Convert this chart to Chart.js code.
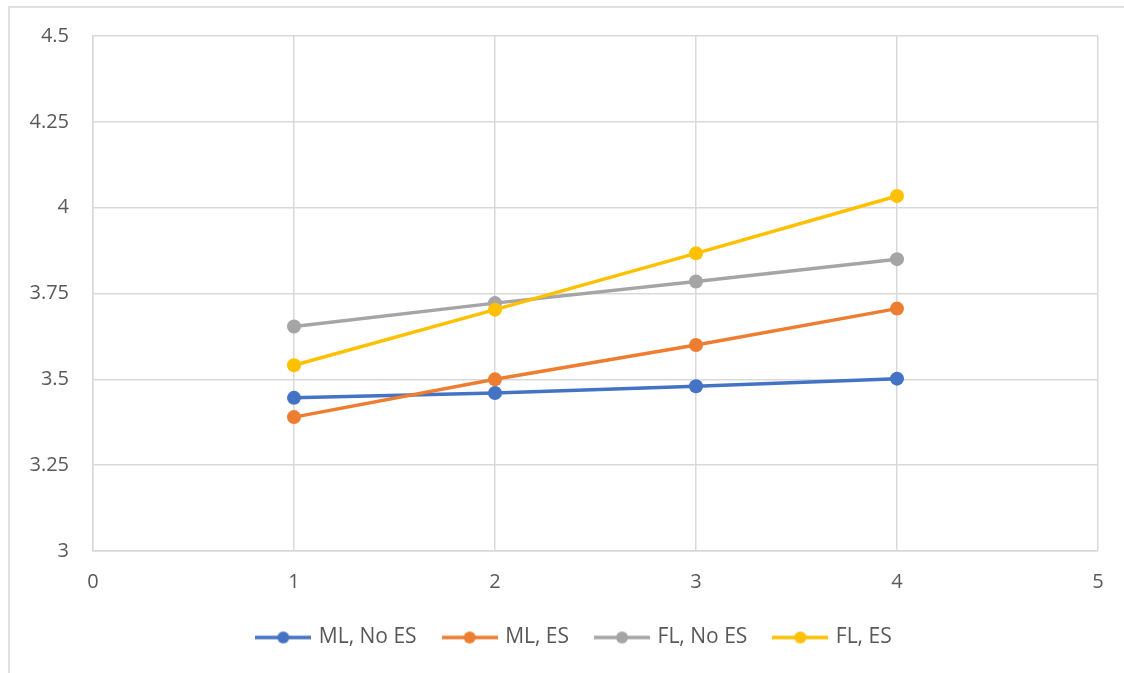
<!DOCTYPE html>
<html>
<head>
<meta charset="utf-8">
<script src="https://cdn.jsdelivr.net/npm/chart.js@4.4.1/dist/chart.umd.min.js"></script>
<style>
  html, body { margin: 0; padding: 0; background: #fff; overflow: hidden; }
  #wrap { position: relative; width: 1124px; height: 673px; }
  #frame {
    position: absolute; left: 8px; top: 6px; width: 1400px; height: 900px;
    border-left: 2px solid #e0e0e0; border-top: 2px solid #e0e0e0;
  }
  #grafico { position: absolute; left: 0; top: 0; }
</style>
</head>
<body>
<div id="wrap">
  <div id="frame"></div>
  <canvas id="grafico" width="1124" height="673"></canvas>
</div>
<script>
// series data
const xValues = [1, 2, 3, 4];
const seriesNames = ['ML, No ES', 'ML, ES', 'FL, No ES', 'FL, ES'];
const mlNoEs = [3.446, 3.46, 3.48, 3.502];
const mlEs = [3.39, 3.50, 3.60, 3.706];
const flNoEs = [3.654, 3.722, 3.785, 3.85];
const flEs = [3.541, 3.703, 3.867, 4.034];
const seriesColors = ['#4472C4', '#ED7D31', '#A5A5A5', '#FFC000'];

// axis ticks
const yTickLabels = ['3', '3.25', '3.5', '3.75', '4', '4.25', '4.5'];
const xTickLabels = ['0', '1', '2', '3', '4', '5'];

const textColor = '#595959';
const gridColor = '#d9d9d9';
const fontFamily = '"Open Sans", "Noto Sans", sans-serif';

// legend marker: short line with a dot in the middle
function legendMarker(color) {
  const c = document.createElement('canvas');
  c.width = 56;
  c.height = 14;
  const g = c.getContext('2d');
  g.strokeStyle = color;
  g.lineWidth = 3.5;
  g.beginPath();
  g.moveTo(0, 7);
  g.lineTo(56, 7);
  g.stroke();
  g.fillStyle = color;
  g.beginPath();
  g.arc(28, 7, 6, 0, Math.PI * 2);
  g.fill();
  return c;
}

const allSeries = [mlNoEs, mlEs, flNoEs, flEs];
const markers = seriesColors.map(legendMarker);

const datasets = allSeries.map((vals, i) => ({
  label: seriesNames[i],
  data: vals.map((v, j) => ({ x: xValues[j], y: v })),
  borderColor: seriesColors[i],
  backgroundColor: seriesColors[i],
  borderWidth: 3.5,
  pointRadius: 7,
  pointHoverRadius: 7,
  pointBorderWidth: 0,
  order: allSeries.length - i   // later series drawn on top
}));

// nudge the legend a little to the right of the canvas centre
const legendShift = {
  id: 'legendShift',
  afterLayout(chart) {
    if (chart.legend) {
      chart.legend.left += 26;
      chart.legend.right += 26;
    }
  }
};

new Chart(document.getElementById('grafico'), {
  type: 'line',
  data: { datasets: datasets },
  plugins: [legendShift],
  options: {
    responsive: false,
    animation: false,
    layout: { padding: { top: 34, right: 26, left: 0, bottom: 15 } },
    scales: {
      x: {
        type: 'linear',
        min: 0,
        max: 5,
        ticks: {
          stepSize: 1,
          padding: 19,
          color: textColor,
          font: { family: fontFamily, size: 20 },
          callback: (v, i) => xTickLabels[i]
        },
        grid: { color: gridColor, lineWidth: 1.5, drawTicks: false },
        border: { color: gridColor, width: 1.5 },
        afterFit: (s) => { s.height = 48; }
      },
      y: {
        min: 3,
        max: 4.5,
        ticks: {
          stepSize: 0.25,
          padding: 24,
          color: textColor,
          font: { family: fontFamily, size: 20 },
          callback: (v, i) => yTickLabels[i]
        },
        grid: { color: gridColor, lineWidth: 1.5, drawTicks: false },
        border: { color: gridColor, width: 1.5 },
        afterFit: (s) => { s.width = 93; }
      }
    },
    plugins: {
      tooltip: { enabled: false },
      legend: {
        position: 'bottom',
        labels: {
          usePointStyle: true,
          pointStyleWidth: 50,
          padding: 28,
          color: textColor,
          font: { family: fontFamily, size: 21 },
          generateLabels: (chart) => chart.data.datasets.map((ds, i) => ({
            text: ds.label,
            pointStyle: markers[i],
            fillStyle: ds.borderColor,
            strokeStyle: ds.borderColor,
            fontColor: textColor,
            lineWidth: 0,
            hidden: false,
            datasetIndex: i
          }))
        }
      }
    }
  }
});
</script>
</body>
</html>
